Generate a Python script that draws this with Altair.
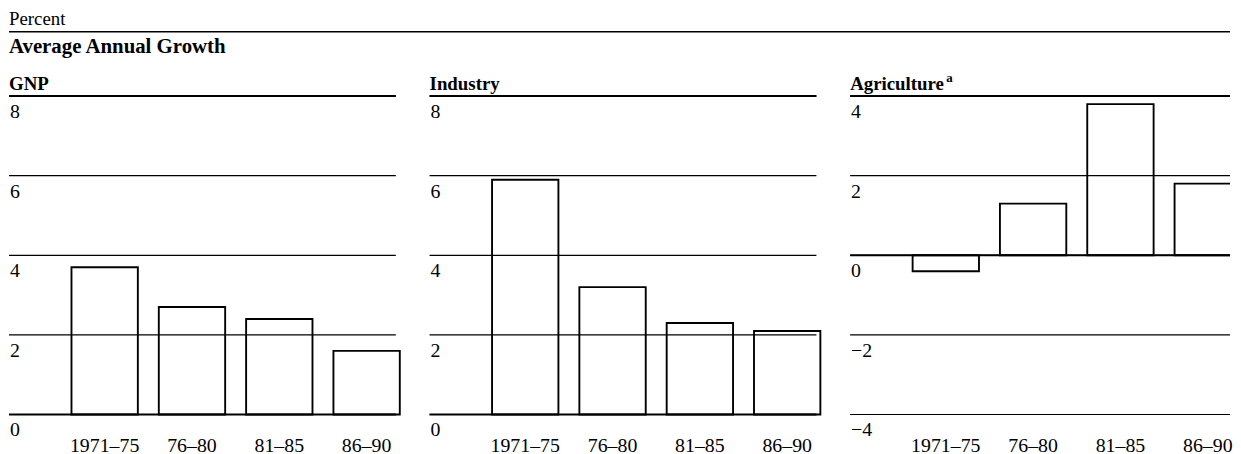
import altair as alt
import pandas as pd

SERIF = "Liberation Serif"

# ---- data ----
periods = ["1971–75", "76–80", "81–85", "86–90"]
gnp_growth = [3.7, 2.7, 2.4, 1.6]
industry_growth = [5.9, 3.2, 2.3, 2.1]
agriculture_growth = [-0.4, 1.3, 3.8, 1.8]
gnp_ticks = [0, 2, 4, 6, 8]
industry_ticks = [0, 2, 4, 6, 8]
agriculture_ticks = [-4, -2, 0, 2, 4]

PLOT_H = 321
TOTAL_W = 1231


def text_layer(txt, x, y, size, weight="normal"):
    return alt.Chart(pd.DataFrame({"t": [txt]})).mark_text(
        align="left", baseline="alphabetic", font=SERIF, fontSize=size,
        fontWeight=weight, color="black"
    ).encode(x=alt.value(x), y=alt.value(y), text="t:N")


def make_panel(name, values, ticks, width, sup=None, header=False, clip=False):
    y_scale = alt.Scale(domain=[min(ticks), max(ticks)], nice=False, zero=False)
    x_scale = alt.Scale(domain=periods, range=[63, 394], paddingInner=0.24, paddingOuter=0)
    bars_df = pd.DataFrame({"period": periods, "value": values})
    ticks_df = pd.DataFrame({"tick": ticks})

    bars = alt.Chart(bars_df).mark_bar(
        fill="white", stroke="black", strokeWidth=1.9, clip=clip
    ).encode(
        x=alt.X("period:N", sort=periods, scale=x_scale,
                axis=alt.Axis(title=None, domain=False, ticks=False, tickSize=0,
                              labelAngle=0, labelPadding=37, labelBaseline="alphabetic",
                              labelFont=SERIF, labelFontSize=20, labelColor="black",
                              grid=False)),
        y=alt.Y("value:Q", scale=y_scale, axis=None),
        y2=alt.datum(0),
    )
    grid = alt.Chart(ticks_df).mark_rule(color="black", strokeWidth=1.2).encode(
        y=alt.Y("tick:Q", scale=y_scale, axis=None),
        x=alt.value(0), x2=alt.value(width),
    )
    heavy = alt.Chart(ticks_df).transform_filter(
        alt.FieldOneOfPredicate(field="tick", oneOf=[0, max(ticks)])
    ).mark_rule(color="black", strokeWidth=2).encode(
        y=alt.Y("tick:Q", scale=y_scale, axis=None),
        x=alt.value(0), x2=alt.value(width),
    )
    labels = alt.Chart(ticks_df).mark_text(
        align="left", baseline="alphabetic", dx=1, dy=22, font=SERIF,
        fontSize=20, color="black"
    ).encode(
        y=alt.Y("tick:Q", scale=y_scale, axis=None),
        x=alt.value(0),
        text=alt.Text("tick:Q", format="d"),
    )
    layers = [bars, grid, heavy, labels, text_layer(name, 0, -6, 19, "bold")]
    if sup:
        layers.append(text_layer(sup, 97, -14, 13, "bold"))
    if header:
        layers.append(text_layer("Percent", 0, -72, 19))
        layers.append(
            alt.Chart(pd.DataFrame({"t": [0]})).mark_rule(color="black", strokeWidth=1.5)
            .encode(x=alt.value(0), x2=alt.value(TOTAL_W), y=alt.value(-65))
        )
        layers.append(text_layer("Average Annual Growth", 0, -43, 21, "bold"))
    return alt.layer(*layers).properties(width=width, height=PLOT_H)


p1 = make_panel("GNP", gnp_growth, gnp_ticks, 390, header=True)
p2 = make_panel("Industry", industry_growth, industry_ticks, 390)
p3 = make_panel("Agriculture", agriculture_growth, agriculture_ticks, 383, sup="a", clip=True)

chart = alt.hconcat(p1, p2, p3, spacing=34, bounds="flush").properties(
    padding=0, background="white"
).configure_view(stroke=None)

chart.save("out.html", embed_options={"renderer": "svg", "actions": False})
